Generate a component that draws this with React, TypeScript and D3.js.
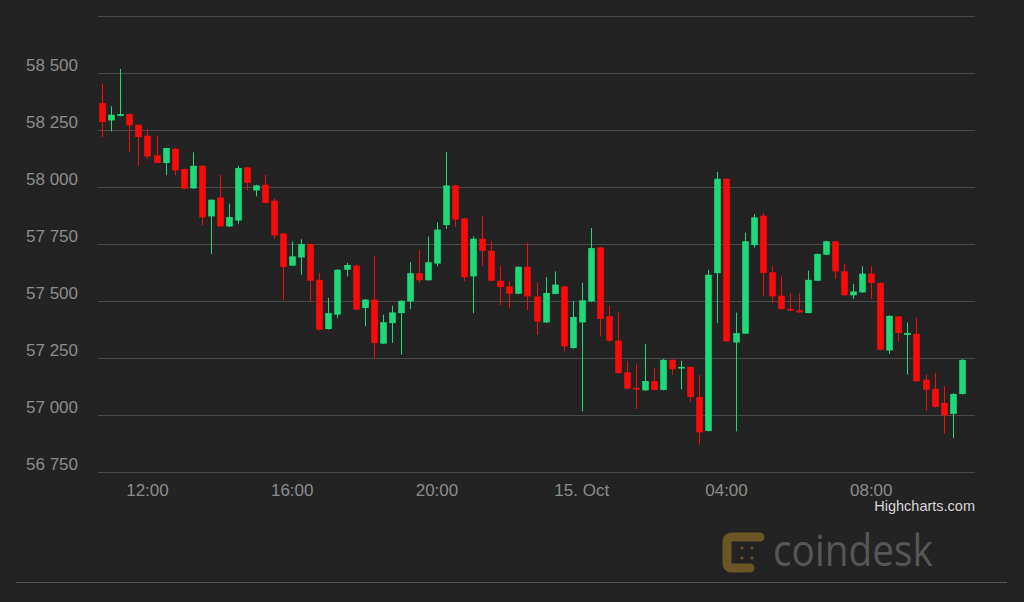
import React from "react";
import * as d3 from "d3";

const startTime = Date.UTC(2021, 9, 14, 10, 45);
const stepMinutes = 15;

const opens = [58368,58292,58312,58320,58273,58225,58139,58105,58168,58079,57994,58093,57871,57954,57827,57853,58086,57985,58010,57940,57796,57655,57691,57750,57593,57377,57440,57637,57655,57469,57506,57313,57403,57447,57498,57622,57591,57664,57833,58007,57862,57608,57773,57720,57589,57564,57532,57650,57520,57406,57531,57564,57294,57406,57498,57735,57433,57326,57187,57119,57108,57149,57110,57242,57204,57211,57079,56930,57622,58036,57318,57357,57745,57874,57626,57523,57465,57459,57447,57589,57703,57762,57630,57525,57538,57620,57579,57283,57432,57351,57356,57155,57115,57053,57005,57092];
const highs = [58453,58354,58518,58322,58275,58254,58225,58172,58170,58080,58152,58095,57946,58054,57927,58093,58088,58010,58054,57950,57798,57761,57771,57752,57623,57514,57640,57667,57660,57508,57699,57440,57479,57503,57670,57725,57783,57845,58153,58009,57865,57783,57874,57762,57655,57586,57652,57756,57580,57605,57630,57566,57500,57580,57820,57737,57480,57450,57238,57222,57311,57208,57245,57244,57238,57213,57177,57637,58066,58038,57449,57800,57881,57886,57655,57608,57535,57535,57633,57708,57764,57764,57664,57575,57652,57652,57582,57437,57434,57406,57427,57178,57185,57126,57095,57245];
const lows = [58219,58244,58310,58153,58093,58123,58105,58052,58051,57990,57992,57832,57706,57825,57825,57839,57985,57959,57928,57773,57504,57653,57615,57498,57370,57374,57425,57608,57460,57389,57246,57311,57316,57265,57465,57579,57589,57652,57816,57825,57586,57447,57655,57587,57481,57469,57530,57459,57352,57404,57529,57279,57290,57016,57495,57345,57320,57180,57112,57027,57106,57108,57108,57176,57113,57057,56870,56928,57403,57321,56928,57355,57734,57520,57491,57463,57456,57448,57446,57587,57701,57597,57523,57509,57536,57509,57284,57268,57323,57177,57146,57020,57032,56918,56898,57090];
const closes = [58285,58317,58320,58270,58219,58134,58105,58171,58073,57993,58093,57867,57944,57827,57868,58083,58018,58007,57930,57788,57649,57696,57750,57589,57374,57447,57637,57658,57462,57506,57316,57407,57450,57501,57622,57591,57670,57813,58007,57857,57604,57773,57720,57589,57561,57532,57650,57520,57410,57535,57572,57301,57430,57503,57732,57421,57326,57184,57116,57112,57149,57110,57242,57201,57211,57079,56924,57615,58036,57323,57359,57762,57867,57623,57520,57465,57459,57450,57593,57706,57762,57630,57525,57542,57620,57579,57286,57435,57360,57360,57148,57111,57036,56999,57092,57242];

const yTicks = [56750, 57000, 57250, 57500, 57750, 58000, 58250, 58500];
const xTickTimes = [
  Date.UTC(2021, 9, 14, 12),
  Date.UTC(2021, 9, 14, 16),
  Date.UTC(2021, 9, 14, 20),
  Date.UTC(2021, 9, 15, 0),
  Date.UTC(2021, 9, 15, 4),
  Date.UTC(2021, 9, 15, 8),
];
const xTickLabels = ["12:00", "16:00", "20:00", "15. Oct", "04:00", "08:00"];

const W = 1024;
const H = 602;
const BG = "#232323";
const UP = "#1fd87a";
const DOWN = "#fb0a0a";
const FONT = "'Liberation Sans', Arial, sans-serif";

export default function App() {
  const x = d3
    .scaleUtc()
    .domain([Date.UTC(2021, 9, 14, 10, 38), Date.UTC(2021, 9, 15, 10, 52)])
    .range([98, 975]);
  const y = d3.scaleLinear().domain([56750, 58750]).range([472, 16]);
  const fmt = (v: number) => d3.format(",")(v).replace(/,/g, " ");
  const bodyW = 6.6;

  const candles = opens.map((o, i) => ({
    t: startTime + i * stepMinutes * 60000,
    o,
    h: highs[i],
    l: lows[i],
    c: closes[i],
  }));

  return (
    <div style={{ position: "fixed", left: 0, top: 0, width: W, height: H, background: BG }}>
      <svg width={W} height={H} style={{ display: "block" }}>
        <rect x={0} y={0} width={W} height={H} fill={BG} />
        {[...yTicks, 58750].map((v) => (
          <line key={v} x1={98} x2={975} y1={Math.round(y(v)) + 0.5} y2={Math.round(y(v)) + 0.5} stroke="#4a4a4a" strokeWidth={1} />
        ))}
        {yTicks.map((v) => (
          <text key={"l" + v} x={78} y={y(v) - 2} textAnchor="end" fill="#8c8c8c" fontSize={17} fontFamily={FONT}>
            {fmt(v)}
          </text>
        ))}
        {xTickTimes.map((t, i) => (
          <text key={"x" + i} x={x(t)} y={496} textAnchor="middle" fill="#8c8c8c" fontSize={17} fontFamily={FONT}>
            {xTickLabels[i]}
          </text>
        ))}
        {candles.map((d, i) => {
          const cx = Math.round(x(d.t)) + 0.5;
          const up = d.c >= d.o;
          const col = up ? UP : DOWN;
          const top = y(Math.max(d.o, d.c));
          const bot = y(Math.min(d.o, d.c));
          return (
            <g key={i}>
              <line x1={cx} x2={cx} y1={y(d.h)} y2={y(d.l)} stroke={col} strokeWidth={1} />
              <rect x={cx - bodyW / 2} y={top} width={bodyW} height={Math.max(1.5, bot - top)} fill={col} />
            </g>
          );
        })}
        <text x={975} y={511} textAnchor="end" fill="#d6d6d6" fontSize={14.5} fontFamily={FONT}>
          Highcharts.com
        </text>
        <g opacity={1}>
          <path
            d="M760,537 L732,537 Q727,537 727,542 L727,563 Q727,568 732,568 L750,568"
            fill="none"
            stroke="#6b5626"
            strokeWidth={9}
            strokeLinecap="round"
            strokeLinejoin="round"
          />
          {[
            [742, 548],
            [752, 548],
            [742, 558],
            [752, 558],
          ].map(([cx, cy], i) => (
            <circle key={i} cx={cx} cy={cy} r={1.6} fill="#6b5626" />
          ))}
          <text x={773} y={566} fill="#565656" fontSize={43} fontFamily="'Open Sans', 'Liberation Sans', sans-serif" textLength={160} lengthAdjust="spacingAndGlyphs">
            coindesk
          </text>
        </g>
        <line x1={16} x2={1007} y1={582.5} y2={582.5} stroke="#555" strokeWidth={1.2} />
      </svg>
    </div>
  );
}
